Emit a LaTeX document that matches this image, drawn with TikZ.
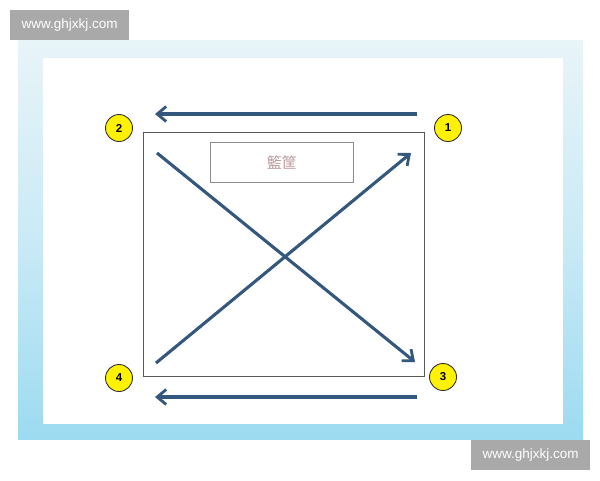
\documentclass[tikz,border=0pt]{standalone}
\usepackage{fontspec}
\setmainfont{Liberation Sans}
\newfontfamily\cjk{Noto Sans CJK TC}
\usetikzlibrary{arrows.meta,shadows}
\definecolor{arrowblue}{HTML}{34577D}
\definecolor{ballyellow}{HTML}{FFF200}
\definecolor{wmgray}{HTML}{A9A9A9}
\definecolor{frametop}{HTML}{E8F4F8}
\definecolor{framebot}{HTML}{9CDBF1}
\definecolor{labeltext}{HTML}{B89A9A}
\tikzset{
  numball/.style={circle,draw=black!80,line width=0.9pt,fill=ballyellow,minimum size=27pt,inner sep=0pt,font=\bfseries\fontsize{11.5}{11.5}\selectfont},
  movearrow/.style={draw=arrowblue,line width=3.1pt,-{Straight Barb[length=9pt,width=15pt,line width=2.8pt]}},
  watermark/.style={fill=wmgray,text=white,minimum width=119pt,minimum height=30pt,inner sep=0pt,font=\fontsize{13.5}{14}\selectfont},
}
\begin{document}
\begin{tikzpicture}[x=1pt,y=-1pt]
\useasboundingbox (0,0) rectangle (600,480);
\fill[white] (0,0) rectangle (600,480);
% frame
\shade[top color=frametop,bottom color=framebot,middle color=frametop!60!framebot] (18,40) rectangle (583,439);
\fill[white] (43,58) rectangle (563,424);
% court square
\node[draw=black!65,line width=0.7pt,minimum width=281pt,minimum height=244pt,inner sep=0pt,anchor=north west] (court) at (143,132) {};
% hoop label
\node[draw=black!45,line width=0.7pt,fill=white,minimum width=143pt,minimum height=40pt,inner sep=0pt,anchor=north west,font=\cjk\fontsize{15}{15}\selectfont,text=labeltext] (hoop) at (210,142) {籃筐};
% numbered balls
\node[numball] (n1) at (448,128) {1};
\node[numball] (n2) at (119,128) {2};
\node[numball] (n3) at (443,377) {3};
\node[numball] (n4) at (119,378) {4};
% arrow endpoints
\coordinate (t1) at (417,114);
\coordinate (t2) at (155,114);
\coordinate (b1) at (417,397);
\coordinate (b2) at (155,397);
\coordinate (d1s) at (156,363);
\coordinate (d1e) at (411,153);
\coordinate (d2s) at (157,153);
\coordinate (d2e) at (415,362);
\draw[movearrow] (t1) -- (t2);
\draw[movearrow] (b1) -- (b2);
\draw[movearrow] (d1s) -- (d1e);
\draw[movearrow] (d2s) -- (d2e);
% watermarks
\node[watermark,anchor=north west] (wm1) at (10,10) {www.ghjxkj.com};
\node[watermark,anchor=north west] (wm2) at (471,440) {www.ghjxkj.com};
\end{tikzpicture}
\end{document}
